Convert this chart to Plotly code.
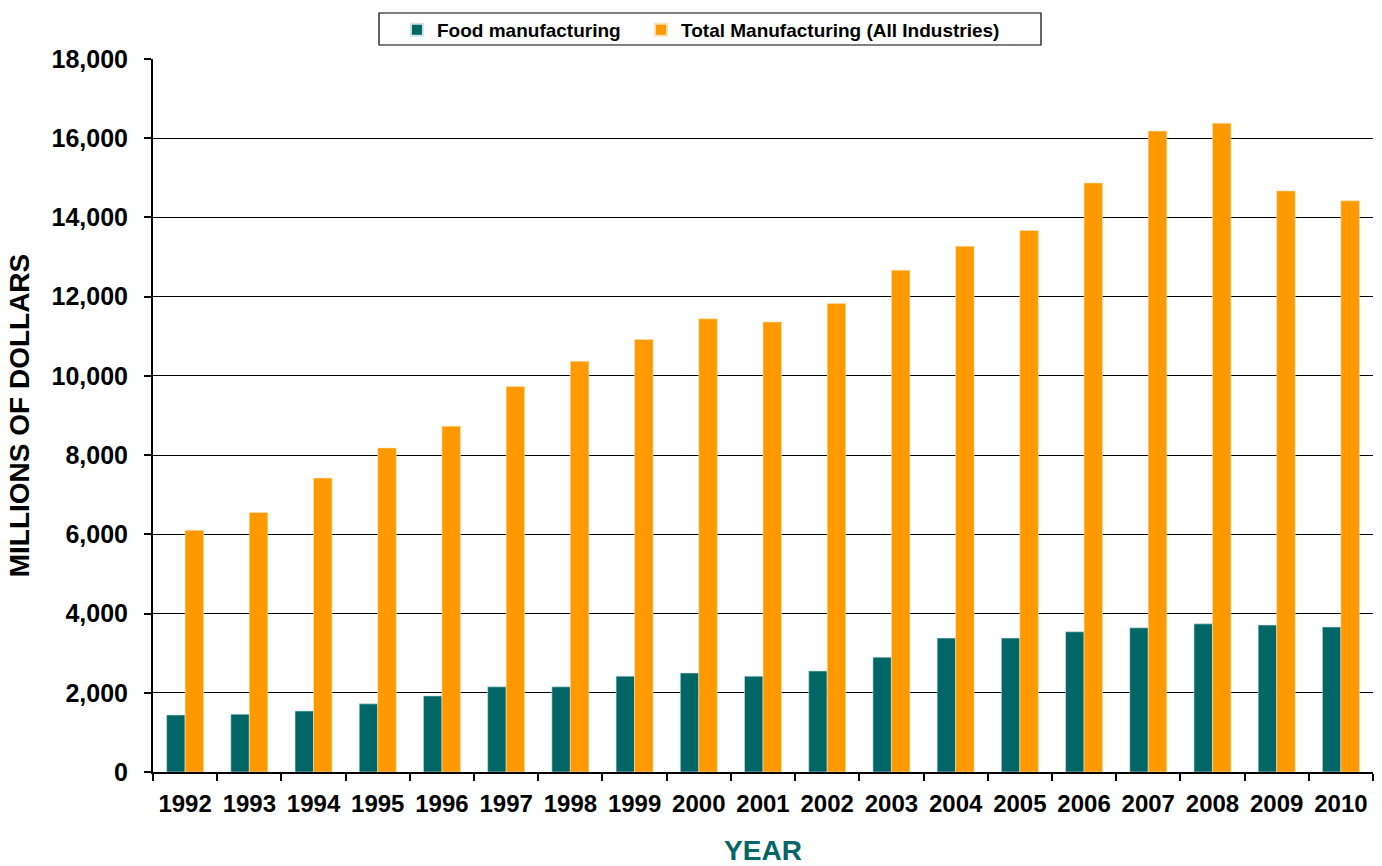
import plotly.graph_objects as go

years = [str(y) for y in range(1992, 2011)]
food = [1440, 1460, 1540, 1720, 1920, 2150, 2150, 2420, 2500, 2420, 2550, 2900,
        3380, 3380, 3540, 3640, 3740, 3710, 3660]
total = [6100, 6550, 7420, 8180, 8730, 9730, 10370, 10920, 11440, 11360, 11830, 12670,
         13270, 13670, 14870, 16180, 16380, 14670, 14420]
y_ticks = list(range(0, 18001, 2000))

FONT = "Arial, Liberation Sans, sans-serif"
L, R, T, B = 153, 9, 59, 94
PW, PH = 1382 - L - R, 866 - T - B

fig = go.Figure()
fig.add_trace(go.Bar(x=years, y=food, name="Food manufacturing", legend="legend",
                     showlegend=True,
                     marker=dict(color="#006666", line=dict(color="#cfe3e3", width=0.6))))
fig.add_trace(go.Bar(x=years, y=total, name="Total Manufacturing (All Industries)",
                     legend="legend2", showlegend=True,
                     marker=dict(color="#FF9900", line=dict(color="#ffe0b0", width=0.6))))

leg_common = dict(orientation="h", xanchor="left", y=(866 - B - 30) / PH, yanchor="middle",
                  font=dict(family=FONT, size=19, weight="bold"),
                  bgcolor="rgba(0,0,0,0)", borderwidth=0, itemsizing="constant")

fig.update_layout(
    width=1382, height=866,
    margin=dict(l=L, r=R, t=T, b=B, autoexpand=False),
    plot_bgcolor="white", paper_bgcolor="white",
    barmode="group", bargap=0.424, bargroupgap=0,
    font=dict(family=FONT, color="black"),
    showlegend=True,
    legend=dict(x=(397 - L) / PW, visible=True, **leg_common),
    legend2=dict(x=(641 - L) / PW, visible=True, **leg_common),
    shapes=[dict(type="rect", xref="paper", yref="paper",
                 x0=(379 - L) / PW, x1=(1041 - L) / PW,
                 y0=(866 - B - 45) / PH, y1=(866 - B - 13) / PH,
                 line=dict(color="black", width=1.2), fillcolor="rgba(0,0,0,0)", layer="below")],
)

fig.update_xaxes(
    type="category", showline=True, linecolor="black", linewidth=2,
    ticks="outside", tickson="boundaries", ticklen=7, tickcolor="black", tickwidth=1.5,
    tickfont=dict(family=FONT, size=24, weight="bold"), ticklabelstandoff=9,
    showgrid=False,
    title=dict(text="YEAR", font=dict(family=FONT, size=28, weight="bold", color="#006666"),
               standoff=32),
)
fig.update_yaxes(
    range=[0, 18000], tickvals=y_ticks, tickformat=",d",
    showline=True, linecolor="black", linewidth=2,
    ticks="outside", ticklen=7, tickcolor="black", tickwidth=1.5,
    showgrid=True, gridcolor="black", gridwidth=1.2, zeroline=False,
    tickfont=dict(family=FONT, size=25, weight="bold"), ticklabelstandoff=11,
    title=dict(text="MILLIONS OF DOLLARS", font=dict(family=FONT, size=28, weight="bold"),
               standoff=14),
)

fig.write_html("out.html", config={"displayModeBar": False},
               post_script="document.body.style.margin='0';document.body.style.overflow='hidden';")
